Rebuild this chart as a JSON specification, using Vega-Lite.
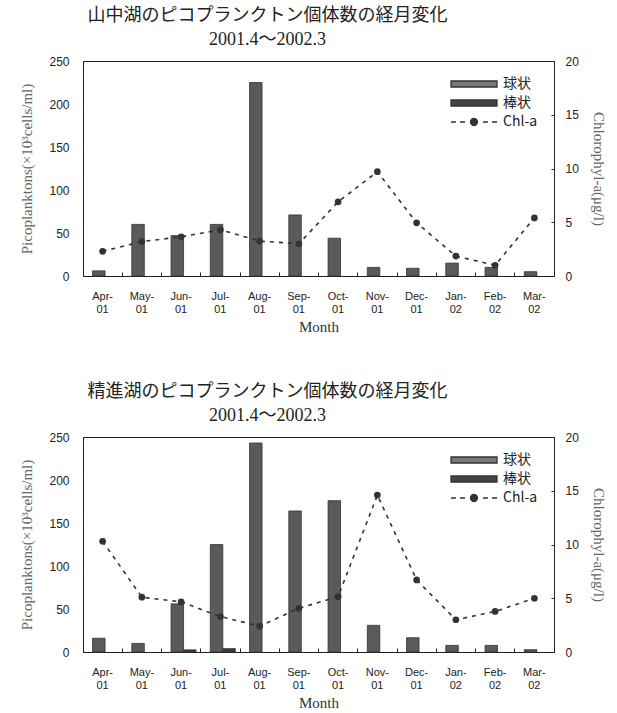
{
  "$schema": "https://vega.github.io/schema/vega-lite/v6.json",
  "padding": {"left": 19, "top": 6, "right": 5, "bottom": 3},
  "background": "#ffffff",
  "datasets": {
    "yamanaka": [
      {"month": "Apr-01", "series": "球状", "value": 6},
      {"month": "May-01", "series": "球状", "value": 60},
      {"month": "Jun-01", "series": "球状", "value": 47},
      {"month": "Jul-01", "series": "球状", "value": 60},
      {"month": "Aug-01", "series": "球状", "value": 225},
      {"month": "Sep-01", "series": "球状", "value": 71},
      {"month": "Oct-01", "series": "球状", "value": 44},
      {"month": "Nov-01", "series": "球状", "value": 10},
      {"month": "Dec-01", "series": "球状", "value": 9},
      {"month": "Jan-02", "series": "球状", "value": 15},
      {"month": "Feb-02", "series": "球状", "value": 10},
      {"month": "Mar-02", "series": "球状", "value": 5},
      {"month": "Apr-01", "series": "棒状", "value": 0},
      {"month": "May-01", "series": "棒状", "value": 0},
      {"month": "Jun-01", "series": "棒状", "value": 0},
      {"month": "Jul-01", "series": "棒状", "value": 0},
      {"month": "Aug-01", "series": "棒状", "value": 0},
      {"month": "Sep-01", "series": "棒状", "value": 0},
      {"month": "Oct-01", "series": "棒状", "value": 0},
      {"month": "Nov-01", "series": "棒状", "value": 0},
      {"month": "Dec-01", "series": "棒状", "value": 0},
      {"month": "Jan-02", "series": "棒状", "value": 0},
      {"month": "Feb-02", "series": "棒状", "value": 0},
      {"month": "Mar-02", "series": "棒状", "value": 0},
      {"month": "Apr-01", "series": "Chl-a", "value": 2.3},
      {"month": "May-01", "series": "Chl-a", "value": 3.2},
      {"month": "Jun-01", "series": "Chl-a", "value": 3.65},
      {"month": "Jul-01", "series": "Chl-a", "value": 4.3},
      {"month": "Aug-01", "series": "Chl-a", "value": 3.25},
      {"month": "Sep-01", "series": "Chl-a", "value": 3.0},
      {"month": "Oct-01", "series": "Chl-a", "value": 6.9},
      {"month": "Nov-01", "series": "Chl-a", "value": 9.7},
      {"month": "Dec-01", "series": "Chl-a", "value": 4.95},
      {"month": "Jan-02", "series": "Chl-a", "value": 1.85},
      {"month": "Feb-02", "series": "Chl-a", "value": 1.0},
      {"month": "Mar-02", "series": "Chl-a", "value": 5.4}
    ],
    "shoji": [
      {"month": "Apr-01", "series": "球状", "value": 16},
      {"month": "May-01", "series": "球状", "value": 10},
      {"month": "Jun-01", "series": "球状", "value": 56},
      {"month": "Jul-01", "series": "球状", "value": 125},
      {"month": "Aug-01", "series": "球状", "value": 243},
      {"month": "Sep-01", "series": "球状", "value": 164},
      {"month": "Oct-01", "series": "球状", "value": 176},
      {"month": "Nov-01", "series": "球状", "value": 31},
      {"month": "Dec-01", "series": "球状", "value": 16.6},
      {"month": "Jan-02", "series": "球状", "value": 7.7},
      {"month": "Feb-02", "series": "球状", "value": 7.7},
      {"month": "Mar-02", "series": "球状", "value": 2.7},
      {"month": "Apr-01", "series": "棒状", "value": 0},
      {"month": "May-01", "series": "棒状", "value": 0},
      {"month": "Jun-01", "series": "棒状", "value": 2.5},
      {"month": "Jul-01", "series": "棒状", "value": 3.9},
      {"month": "Aug-01", "series": "棒状", "value": 0},
      {"month": "Sep-01", "series": "棒状", "value": 0},
      {"month": "Oct-01", "series": "棒状", "value": 0},
      {"month": "Nov-01", "series": "棒状", "value": 0},
      {"month": "Dec-01", "series": "棒状", "value": 0},
      {"month": "Jan-02", "series": "棒状", "value": 0},
      {"month": "Feb-02", "series": "棒状", "value": 0},
      {"month": "Mar-02", "series": "棒状", "value": 0},
      {"month": "Apr-01", "series": "Chl-a", "value": 10.3},
      {"month": "May-01", "series": "Chl-a", "value": 5.1},
      {"month": "Jun-01", "series": "Chl-a", "value": 4.66},
      {"month": "Jul-01", "series": "Chl-a", "value": 3.3},
      {"month": "Aug-01", "series": "Chl-a", "value": 2.4},
      {"month": "Sep-01", "series": "Chl-a", "value": 4.07},
      {"month": "Oct-01", "series": "Chl-a", "value": 5.15},
      {"month": "Nov-01", "series": "Chl-a", "value": 14.6},
      {"month": "Dec-01", "series": "Chl-a", "value": 6.7},
      {"month": "Jan-02", "series": "Chl-a", "value": 3.0},
      {"month": "Feb-02", "series": "Chl-a", "value": 3.77},
      {"month": "Mar-02", "series": "Chl-a", "value": 5.0}
    ]
  },
  "spacing": 47,
  "vconcat": [
    {
      "width": 471,
      "height": 215,
      "data": {"name": "yamanaka"},
      "title": {"text": ["山中湖のピコプランクトン個体数の経月変化", "2001.4〜2002.3"], "dx": -51},
      "encoding": {
        "x": {"field": "month", "type": "ordinal", "sort": null, "title": "Month",
              "scale": {"paddingInner": 0, "paddingOuter": 0},
              "axis": {"labelAngle": 0, "bandPosition": 0, "labelExpr": "[slice(datum.label,0,4), slice(datum.label,4)]"}}
      },
      "layer": [
        {
          "transform": [{"filter": "datum.series !== 'Chl-a' && datum.value > 0"}],
          "mark": {"type": "bar", "stroke": "#333333", "strokeWidth": 0.8},
          "encoding": {
            "xOffset": {"field": "series", "type": "nominal", "scale": {"domain": ["球状", "棒状"], "paddingOuter": 0.57, "paddingInner": 0, "align": 0.67}},
            "y": {"field": "value", "type": "quantitative", "title": "Picoplanktons(×10³cells/ml)",
                  "scale": {"domain": [0, 250]}, "axis": {"values": [0, 50, 100, 150, 200, 250], "ticks": false, "labelPadding": 14, "titlePadding": 14}},
            "fill": {"field": "series", "type": "nominal", "scale": {"domain": ["球状", "棒状"], "range": ["#5a5a5a", "#3a3a3a"]}, "legend": null}
          }
        },
        {
          "transform": [{"filter": "datum.series === 'Chl-a'"}],
          "layer": [
            {
              "mark": {"type": "line", "stroke": "#333333", "strokeWidth": 1.6, "strokeDash": [4, 5]},
              "encoding": {
                "y": {"field": "value", "type": "quantitative", "title": "Chlorophyl-a(μg/l)",
                      "scale": {"domain": [0, 20]}, "axis": {"orient": "right", "values": [0, 5, 10, 15, 20], "tickSize": -3, "labelPadding": 14, "titlePadding": 12}}
              }
            },
            {
              "mark": {"type": "point", "filled": true, "fill": "#333333", "size": 45, "opacity": 1},
              "encoding": {
                "y": {"field": "value", "type": "quantitative"}
              }
            },
            {
              "mark": {"type": "point", "filled": true, "opacity": 0, "size": 100},
              "encoding": {
                "y": {"field": "value", "type": "quantitative"},
                "color": {"field": "series", "type": "nominal", "title": null,
                          "scale": {"domain": ["球状", "棒状", "Chl-a"], "range": ["#7a7a7a", "#444444", "#333333"]},
                          "legend": {"encode": {"symbols": {"update": {"stroke": {"value": "#333333"}, "strokeWidth": {"value": 1.3}, "opacity": {"value": 1}}}}}},
                "shape": {"field": "series", "type": "nominal", "title": null,
                          "scale": {"domain": ["球状", "棒状", "Chl-a"], "range": ["M-4.6,-0.6H4.6V0.6H-4.6Z", "M-4.6,-0.6H4.6V0.6H-4.6Z", "M-4.6,0H-3.6M-2.8,0H-1.8M1.8,0H2.8M3.6,0H4.6M0.7,0A0.7,0.7,0,1,1,-0.7,0A0.7,0.7,0,1,1,0.7,0Z"]}}
              }
            }
          ]
        }
      ],
      "resolve": {"scale": {"y": "independent"}}
    },
    {
      "width": 471,
      "height": 215,
      "data": {"name": "shoji"},
      "title": {"text": ["精進湖のピコプランクトン個体数の経月変化", "2001.4〜2002.3"], "dx": -51},
      "encoding": {
        "x": {"field": "month", "type": "ordinal", "sort": null, "title": "Month",
              "scale": {"paddingInner": 0, "paddingOuter": 0},
              "axis": {"labelAngle": 0, "bandPosition": 0, "labelExpr": "[slice(datum.label,0,4), slice(datum.label,4)]"}}
      },
      "layer": [
        {
          "transform": [{"filter": "datum.series !== 'Chl-a' && datum.value > 0"}],
          "mark": {"type": "bar", "stroke": "#333333", "strokeWidth": 0.8},
          "encoding": {
            "xOffset": {"field": "series", "type": "nominal", "scale": {"domain": ["球状", "棒状"], "paddingOuter": 0.57, "paddingInner": 0, "align": 0.67}},
            "y": {"field": "value", "type": "quantitative", "title": "Picoplanktons(×10³cells/ml)",
                  "scale": {"domain": [0, 250]}, "axis": {"values": [0, 50, 100, 150, 200, 250], "ticks": false, "labelPadding": 14, "titlePadding": 14}},
            "fill": {"field": "series", "type": "nominal", "scale": {"domain": ["球状", "棒状"], "range": ["#5a5a5a", "#3a3a3a"]}, "legend": null}
          }
        },
        {
          "transform": [{"filter": "datum.series === 'Chl-a'"}],
          "layer": [
            {
              "mark": {"type": "line", "stroke": "#333333", "strokeWidth": 1.6, "strokeDash": [4, 5]},
              "encoding": {
                "y": {"field": "value", "type": "quantitative", "title": "Chlorophyl-a(μg/l)",
                      "scale": {"domain": [0, 20]}, "axis": {"orient": "right", "values": [0, 5, 10, 15, 20], "tickSize": -3, "labelPadding": 14, "titlePadding": 12}}
              }
            },
            {
              "mark": {"type": "point", "filled": true, "fill": "#333333", "size": 45, "opacity": 1},
              "encoding": {
                "y": {"field": "value", "type": "quantitative"}
              }
            },
            {
              "mark": {"type": "point", "filled": true, "opacity": 0, "size": 100},
              "encoding": {
                "y": {"field": "value", "type": "quantitative"},
                "color": {"field": "series", "type": "nominal", "title": null,
                          "scale": {"domain": ["球状", "棒状", "Chl-a"], "range": ["#7a7a7a", "#444444", "#333333"]},
                          "legend": {"encode": {"symbols": {"update": {"stroke": {"value": "#333333"}, "strokeWidth": {"value": 1.3}, "opacity": {"value": 1}}}}}},
                "shape": {"field": "series", "type": "nominal", "title": null,
                          "scale": {"domain": ["球状", "棒状", "Chl-a"], "range": ["M-4.6,-0.6H4.6V0.6H-4.6Z", "M-4.6,-0.6H4.6V0.6H-4.6Z", "M-4.6,0H-3.6M-2.8,0H-1.8M1.8,0H2.8M3.6,0H4.6M0.7,0A0.7,0.7,0,1,1,-0.7,0A0.7,0.7,0,1,1,0.7,0Z"]}}
              }
            }
          ]
        }
      ],
      "resolve": {"scale": {"y": "independent"}}
    }
  ],
  "resolve": {"scale": {"color": "independent", "shape": "independent", "fill": "independent", "x": "independent"}},
  "config": {
    "view": {"stroke": "#222222", "strokeWidth": 1},
    "title": {"font": "Liberation Serif, Noto Sans CJK JP", "fontSize": 18, "fontWeight": "normal", "color": "#222222", "lineHeight": 24, "offset": 6},
    "axis": {
      "domainColor": "#222222", "tickColor": "#222222", "grid": false,
      "labelFont": "Liberation Sans", "labelFontSize": 12, "labelColor": "#222222",
      "titleFont": "Liberation Serif", "titleFontSize": 15, "titleFontWeight": "normal", "titleColor": "#666666"
    },
    "axisX": {"labelFontSize": 11, "labelLineHeight": 13, "tickSize": -4, "labelPadding": 18, "titlePadding": 5, "titleColor": "#333333"},
    "legend": {
      "orient": "top-right", "offset": 16,
      "labelFont": "Noto Sans CJK JP", "labelFontSize": 14, "labelColor": "#222222",
      "symbolOffset": 16, "labelOffset": 22, "rowPadding": 5, "symbolOpacity": 1,
      "symbolStrokeColor": "#333333", "symbolStrokeWidth": 1.2
    }
  }
}
